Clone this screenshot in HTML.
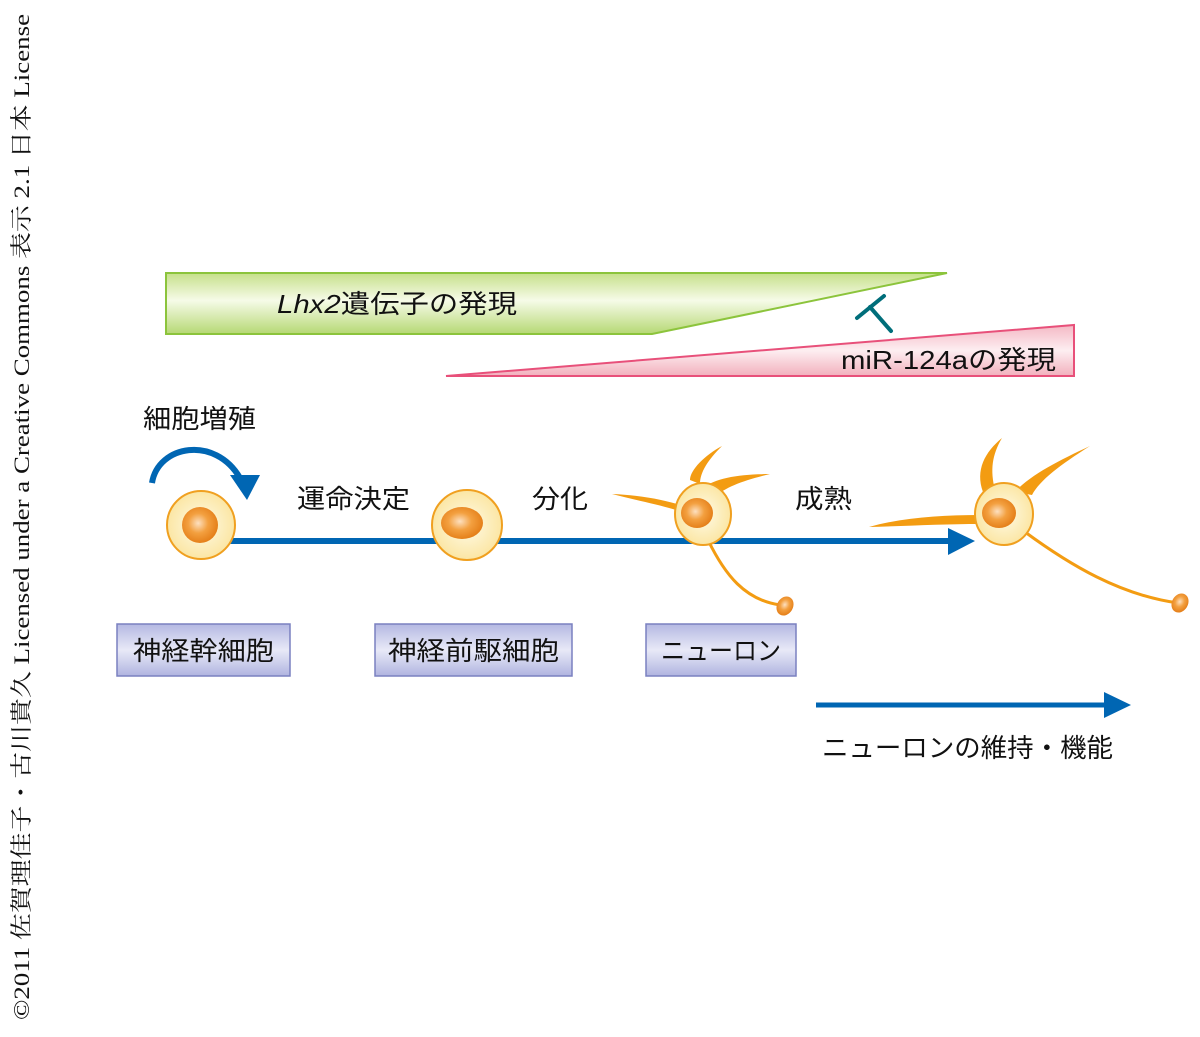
<!DOCTYPE html>
<html><head><meta charset="utf-8">
<style>
html,body{margin:0;padding:0;background:#fff;}
svg{display:block;}
.j{font-family:"Liberation Sans","Noto Sans CJK JP",sans-serif;fill:#111;}
</style></head>
<body>
<svg width="1200" height="1037" viewBox="0 0 1200 1037" xmlns="http://www.w3.org/2000/svg">
<defs>
<linearGradient id="gg" x1="0" y1="0" x2="0" y2="1">
<stop offset="0" stop-color="#c6e08a"/><stop offset="0.45" stop-color="#f6fbe8"/><stop offset="1" stop-color="#b6d874"/>
</linearGradient>
<linearGradient id="pg" x1="0" y1="0" x2="0" y2="1">
<stop offset="0" stop-color="#f4b8c4"/><stop offset="0.5" stop-color="#fdeef1"/><stop offset="1" stop-color="#f2b0bd"/>
</linearGradient>
<linearGradient id="bg" x1="0" y1="0" x2="0" y2="1">
<stop offset="0" stop-color="#b4b8e2"/><stop offset="0.5" stop-color="#e8e9f7"/><stop offset="1" stop-color="#b0b4e0"/>
</linearGradient>
<radialGradient id="cg" cx="0.5" cy="0.5" r="0.5">
<stop offset="0" stop-color="#fffbe8"/><stop offset="1" stop-color="#fbe6a4"/>
</radialGradient>
<radialGradient id="ng" cx="0.45" cy="0.45" r="0.55">
<stop offset="0" stop-color="#fde0c0"/><stop offset="0.5" stop-color="#f3a040"/><stop offset="1" stop-color="#e5801a"/>
</radialGradient>
</defs>

<text transform="translate(29,1020) rotate(-90)" font-family="'Liberation Serif','Noto Serif CJK SC',serif" font-size="22" fill="#111" textLength="1006" lengthAdjust="spacingAndGlyphs">©2011 佐賀理佳子・古川貴久 Licensed under a Creative Commons 表示 2.1 日本 License</text>

<polygon points="166,273 947,273 652,334 166,334" fill="url(#gg)" stroke="#8cc43c" stroke-width="2"/>
<text x="277" y="313" class="j" font-size="26" textLength="240" lengthAdjust="spacingAndGlyphs"><tspan font-style="italic">Lhx2</tspan>遺伝子の発現</text>

<polygon points="446,376 1074,325 1074,376" fill="url(#pg)" stroke="#e8507a" stroke-width="2"/>
<text x="841" y="369" class="j" font-size="26" textLength="215" lengthAdjust="spacingAndGlyphs">miR-124aの発現</text>

<g stroke="#006e7a" stroke-width="4" stroke-linecap="round">
<line x1="857" y1="318" x2="884" y2="296"/><line x1="870" y1="307" x2="891" y2="331"/>
</g>

<text x="143" y="428" class="j" font-size="26" textLength="113" lengthAdjust="spacingAndGlyphs">細胞増殖</text>
<path d="M152,483 C158,445 215,435 240,478" fill="none" stroke="#0066b3" stroke-width="6"/>
<polygon points="230,475 260,475 247,500" fill="#0066b3"/>

<text x="297" y="508" class="j" font-size="26" textLength="113" lengthAdjust="spacingAndGlyphs">運命決定</text>
<text x="532" y="508" class="j" font-size="26" textLength="56" lengthAdjust="spacingAndGlyphs">分化</text>
<text x="795" y="508" class="j" font-size="26" textLength="57" lengthAdjust="spacingAndGlyphs">成熟</text>

<line x1="200" y1="541" x2="952" y2="541" stroke="#0066b3" stroke-width="6"/>
<polygon points="948,528 975,541 948,555" fill="#0066b3"/>

<g fill="#f39c12">
<path d="M612,494 C640,495 665,500 680,505 L676,510 C660,505 635,500 612,494Z"/>
<path d="M690,480 C690,470 705,455 722,446 C708,460 700,472 700,484Z"/>
<path d="M703,488 C715,478 740,474 770,474 C745,480 725,487 715,497Z"/>
<path d="M869,527 C900,518 940,515 980,515 L980,524 C945,524 905,526 869,527Z"/>
<path d="M983,492 C975,470 985,452 1002,438 C992,455 990,470 995,490Z"/>
<path d="M1015,492 C1030,475 1060,460 1090,446 C1060,465 1040,480 1032,495Z"/>
</g>
<path d="M708,540 C725,575 745,600 780,605" fill="none" stroke="#f39c12" stroke-width="3"/>
<path d="M1025,532 C1070,565 1120,595 1178,603" fill="none" stroke="#f39c12" stroke-width="3"/>
<ellipse cx="785" cy="606" rx="8" ry="10" transform="rotate(30 785 606)" fill="url(#ng)"/>
<ellipse cx="1180" cy="603" rx="8" ry="10" transform="rotate(30 1180 603)" fill="url(#ng)"/>

<circle cx="201" cy="525" r="34" fill="url(#cg)" stroke="#f0a020" stroke-width="2"/>
<circle cx="200" cy="525" r="18" fill="url(#ng)"/>
<circle cx="467" cy="525" r="35" fill="url(#cg)" stroke="#f0a020" stroke-width="2"/>
<ellipse cx="462" cy="523" rx="21" ry="16" fill="url(#ng)"/>
<ellipse cx="703" cy="514" rx="28" ry="31" fill="url(#cg)" stroke="#f0a020" stroke-width="2"/>
<ellipse cx="697" cy="513" rx="16" ry="15" fill="url(#ng)"/>
<ellipse cx="1004" cy="514" rx="29" ry="31" fill="url(#cg)" stroke="#f0a020" stroke-width="2"/>
<ellipse cx="999" cy="513" rx="17" ry="15" fill="url(#ng)"/>

<rect x="117" y="624" width="173" height="52" fill="url(#bg)" stroke="#7a80c0" stroke-width="1.5"/>
<text x="133" y="660" class="j" font-size="26" textLength="141" lengthAdjust="spacingAndGlyphs">神経幹細胞</text>
<rect x="375" y="624" width="197" height="52" fill="url(#bg)" stroke="#7a80c0" stroke-width="1.5"/>
<text x="388" y="660" class="j" font-size="26" textLength="171" lengthAdjust="spacingAndGlyphs">神経前駆細胞</text>
<rect x="646" y="624" width="150" height="52" fill="url(#bg)" stroke="#7a80c0" stroke-width="1.5"/>
<text x="661" y="660" class="j" font-size="26" textLength="120" lengthAdjust="spacingAndGlyphs">ニューロン</text>

<line x1="816" y1="705" x2="1108" y2="705" stroke="#0066b3" stroke-width="5"/>
<polygon points="1104,692 1131,705 1104,718" fill="#0066b3"/>
<text x="822" y="757" class="j" font-size="26" textLength="291" lengthAdjust="spacingAndGlyphs">ニューロンの維持・機能</text>
</svg>
</body></html>
